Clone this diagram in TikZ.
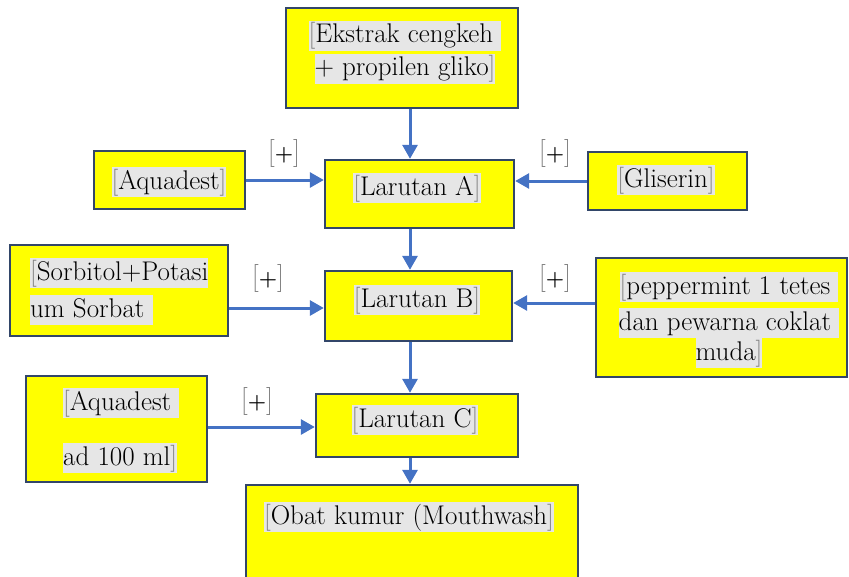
\documentclass[tikz,border=0pt]{standalone}
\usetikzlibrary{arrows.meta}
\definecolor{boxyellow}{RGB}{255,255,0}
\definecolor{boxedge}{RGB}{50,70,105}
\definecolor{arrowblue}{RGB}{68,114,196}
\definecolor{hlgray}{RGB}{230,230,230}
\definecolor{brgray}{RGB}{128,128,128}
\newcommand{\hl}[1]{{\setlength{\fboxsep}{0pt}\colorbox{hlgray}{\rule[-8pt]{0pt}{30pt}#1}}}
\newcommand{\lbr}{{\color{brgray}[}}
\newcommand{\rbr}{{\color{brgray}]}}
\newcommand{\plusmark}{\lbr{\fontsize{21}{21}\selectfont\bfseries +}\rbr}
\begin{document}
\begin{tikzpicture}[x=1pt,y=-1pt,
  box/.style={draw=boxedge, line width=2.4pt, fill=boxyellow, inner sep=0pt},
  txt/.style={font=\rmfamily\fontsize{27}{33}\selectfont, inner sep=0pt},
  conn/.style={draw=arrowblue, line width=3pt, -{Triangle[length=14pt,width=15pt]}},
  plus/.style={font=\rmfamily\fontsize{28}{33}\selectfont, inner sep=0pt}]
\useasboundingbox (0,0) rectangle (849,576);
% boxes
\node[box, minimum width=232pt, minimum height=100pt] (ek)  at (402,58)    {};
\node[box, minimum width=151pt, minimum height=58pt]  (aq1) at (169.5,180) {};
\node[box, minimum width=189pt, minimum height=68pt]  (la)  at (419.5,194) {};
\node[box, minimum width=159pt, minimum height=58pt]  (gl)  at (667.5,181) {};
\node[box, minimum width=218pt, minimum height=91pt]  (so)  at (119,290.5) {};
\node[box, minimum width=187pt, minimum height=70pt]  (lb)  at (418.5,306) {};
\node[box, minimum width=251pt, minimum height=119pt] (pe)  at (721.5,317.5) {};
\node[box, minimum width=181pt, minimum height=106pt] (aq2) at (116.5,429) {};
\node[box, minimum width=202pt, minimum height=63pt]  (lc)  at (417,425.5) {};
\node[box, minimum width=332pt, minimum height=96pt]  (ob)  at (412,533)   {};
% texts
\node[txt, align=center] (tek) at (405,52) {\hl{\lbr Ekstrak cengkeh }\\\hl{+ propilen gliko\rbr}};
\node[txt] (taq1) at (169,182) {\hl{\lbr Aquadest\rbr}};
\node[txt] (tla) at (417,188) {\hl{\lbr Larutan A\rbr}};
\node[txt] (tgl) at (666,180) {\hl{\lbr Gliserin\rbr}};
\node[txt, align=left, anchor=west] (tso) at (30,291.5) {\hl{\lbr Sorbitol+Potasi}\\[4pt]\hl{um Sorbat }};
\node[txt] (tlb) at (417,300) {\hl{\lbr Larutan B\rbr}};
\node[txt, align=center] (tpe) at (729,320) {\hl{\lbr peppermint 1 tetes }\\[3pt]\hl{dan pewarna coklat }\\[-3pt]\hl{muda\rbr}};
\node[txt, align=left, anchor=west] (taq2) at (63,430.5) {\hl{\lbr Aquadest }\\[22pt]\hl{ad 100 ml\rbr}};
\node[txt] (tlc) at (415,420) {\hl{\lbr Larutan C\rbr}};
\node[txt] (tob) at (409,517) {\hl{\lbr Obat kumur (Mouthwash\rbr}};
% plus marks
\node[plus] (p1) at (284,153) {\plusmark};
\node[plus] (p2) at (555,153) {\plusmark};
\node[plus] (p3) at (268,278) {\plusmark};
\node[plus] (p4) at (555,278) {\plusmark};
\node[plus] (p5) at (257,401) {\plusmark};
% helper coordinates
\coordinate (vx) at (410,0);
\coordinate (hy2) at (0,308);
\coordinate (hy3) at (0,303);
\coordinate (hy4) at (0,427);
% connectors
\draw[conn] (ek.south -| vx) -- (la.north -| vx);
\draw[conn] (la.south -| vx) -- (lb.north -| vx);
\draw[conn] (lb.south -| vx) -- (lc.north -| vx);
\draw[conn] (lc.south -| vx) -- (ob.north -| vx);
\draw[conn] (aq1.east) -- (la.west |- aq1.east);
\draw[conn] (gl.west) -- (la.east |- gl.west);
\draw[conn] (so.east |- hy2) -- (lb.west |- hy2);
\draw[conn] (pe.west |- hy3) -- (lb.east |- hy3);
\draw[conn] (aq2.east |- hy4) -- (lc.west |- hy4);
\end{tikzpicture}
\end{document}
